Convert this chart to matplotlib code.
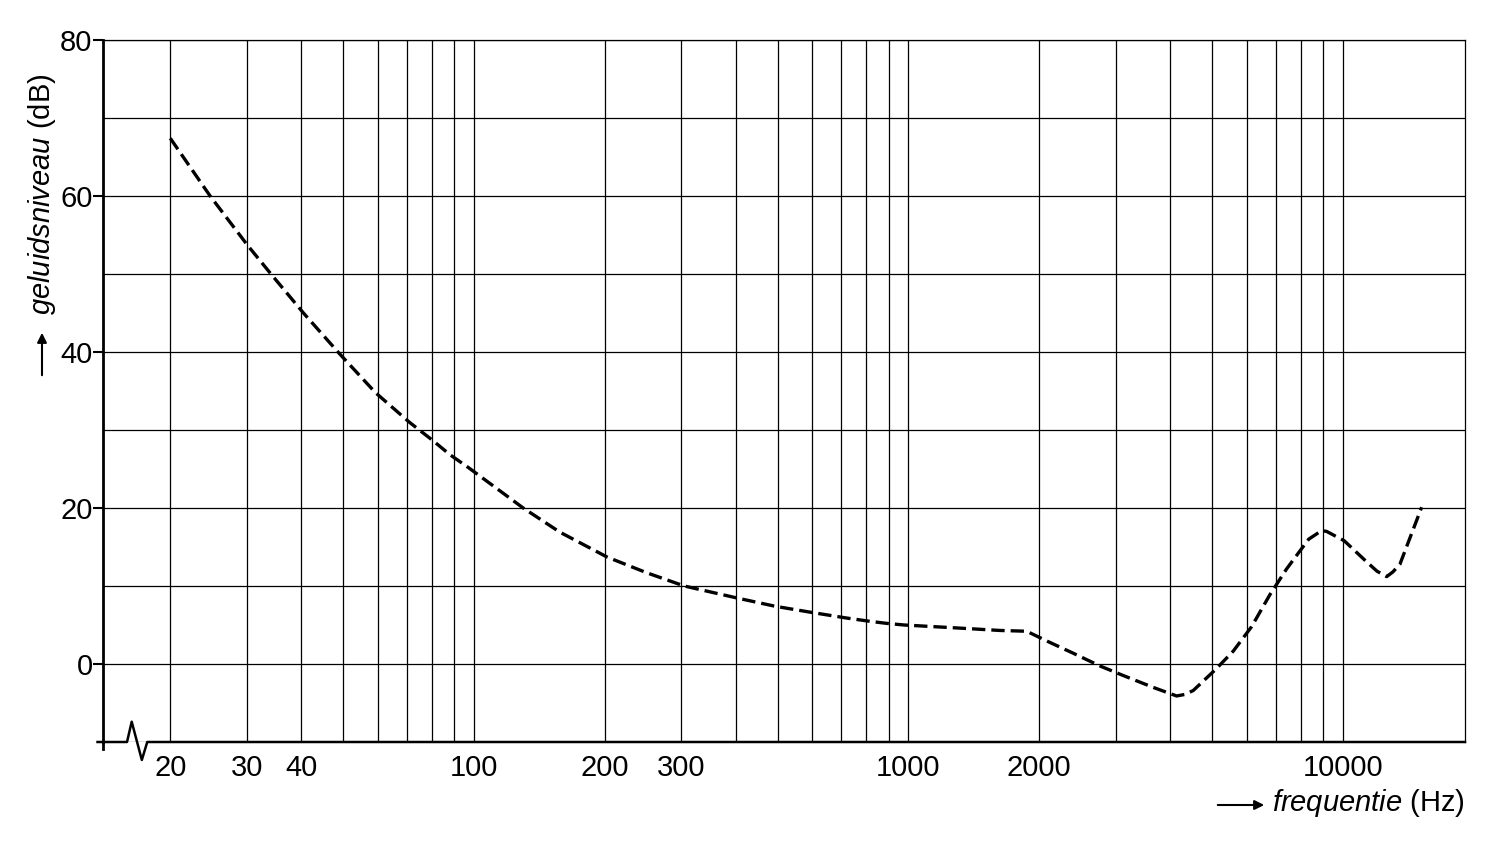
import matplotlib.pyplot as plt
from matplotlib.ticker import FixedLocator, NullFormatter

plt.rcParams['font.family'] = ['Liberation Sans', 'DejaVu Sans']
plt.rcParams['mathtext.fontset'] = 'custom'
plt.rcParams['mathtext.it'] = 'Liberation Sans:italic'
plt.rcParams['mathtext.rm'] = 'Liberation Sans'

# hearing threshold curve
freq = [20, 24.7, 30.1, 34.1, 40.5, 49.0, 59.3, 71.0, 80.2, 88.2, 97.0, 129.8,
        157.7, 202.7, 249.7, 304.8, 407.8, 493.6, 600.5, 719.3, 808, 893.6, 977.9,
        1314, 1624, 1871, 2091, 2391, 2759, 3129, 3660, 4143, 4329, 4524, 5093,
        5593, 6166, 6794, 7422, 8341, 8933, 9173, 10070, 11340, 11980, 12610,
        13030, 13530, 15180]
level = [67.4, 60.0, 53.7, 50.0, 45.0, 39.8, 34.8, 31.0, 28.7, 26.8, 25.2, 20.0,
         16.9, 13.7, 11.7, 10.0, 8.4, 7.4, 6.6, 5.9, 5.5, 5.2, 5.0,
         4.6, 4.3, 4.2, 2.9, 1.4, -0.25, -1.5, -3.0, -4.1, -3.9, -3.4, -0.7,
         1.65, 4.8, 8.9, 12.2, 16.0, 17.1, 17.0, 15.8, 13.1, 11.9, 11.2,
         11.8, 12.8, 20.1]

grid_freqs = [20, 30, 40, 50, 60, 70, 80, 90, 100, 200, 300, 400, 500, 600, 700,
              800, 900, 1000, 2000, 3000, 4000, 5000, 6000, 7000, 8000, 9000, 10000]
db_lines = [-10, 0, 10, 20, 30, 40, 50, 60, 70, 80]
xtick_vals = [20, 30, 40, 100, 200, 300, 1000, 2000, 10000]
xtick_marks = [20, 100, 1000, 10000]
ytick_vals = [0, 20, 40, 60, 80]

W, H = 1490, 843
fig = plt.figure(figsize=(W / 100, H / 100), dpi=100)
ax = fig.add_axes([103 / W, 1 - 742 / H, (1465 - 103) / W, (742 - 40) / H])
ax.set_xscale('log')
ax.set_xlim(14.0, 19100)
ax.set_ylim(-10, 80)

for f in grid_freqs:
    ax.axvline(f, color='black', lw=0.9, zorder=1)
for d in db_lines:
    ax.axhline(d, color='black', lw=0.9, zorder=1)

ax.plot(freq, level, color='black', lw=2.4, dashes=(4, 1.8), zorder=3,
        solid_joinstyle='round', dash_joinstyle='round')

ax.set_xticks(xtick_vals, [str(v) for v in xtick_vals])
ax.xaxis.set_minor_locator(FixedLocator(xtick_marks))
ax.xaxis.set_minor_formatter(NullFormatter())
ax.tick_params(axis='x', which='major', length=0, pad=9, labelsize=21)
ax.tick_params(axis='x', which='minor', length=7, width=1.5, direction='out')
ax.set_yticks(ytick_vals)
ax.tick_params(axis='y', length=7, width=1.5, pad=0.5, labelsize=21)

ax.spines['left'].set_linewidth(2)
ax.spines['bottom'].set_visible(False)
ax.spines['top'].set_linewidth(0.9)
ax.spines['right'].set_linewidth(0.9)

# bottom axis with the break mark near the start
brk_x = [13.6, 15.9, 16.3, 17.2, 17.7, 19100]
brk_y = [-10, -10, -7.4, -12.3, -10, -10]
ax.plot(brk_x, brk_y, color='black', lw=1.8, clip_on=False, zorder=4)
ax.plot([14.0, 14.0], [-10, -10.9], color='black', lw=2, clip_on=False, zorder=4)

# axis titles with arrows
fig.text(42 / W, 1 - 194 / H, r'$\mathit{geluidsniveau}$ (dB)', rotation=90,
         ha='center', va='center', fontsize=21)
ax.annotate('', xy=(42 / W, 1 - 330 / H), xytext=(42 / W, 1 - 378 / H),
            xycoords='figure fraction', textcoords='figure fraction',
            arrowprops=dict(arrowstyle='-|>', color='black', lw=1.5,
                            mutation_scale=14))
fig.text(1465 / W, 1 - 803 / H, r'$\mathit{frequentie}$ (Hz)',
         ha='right', va='center', fontsize=21)
ax.annotate('', xy=(1267 / W, 1 - 805 / H), xytext=(1215 / W, 1 - 805 / H),
            xycoords='figure fraction', textcoords='figure fraction',
            arrowprops=dict(arrowstyle='-|>', color='black', lw=1.5,
                            mutation_scale=14))

fig.savefig('out.png', dpi=100)
